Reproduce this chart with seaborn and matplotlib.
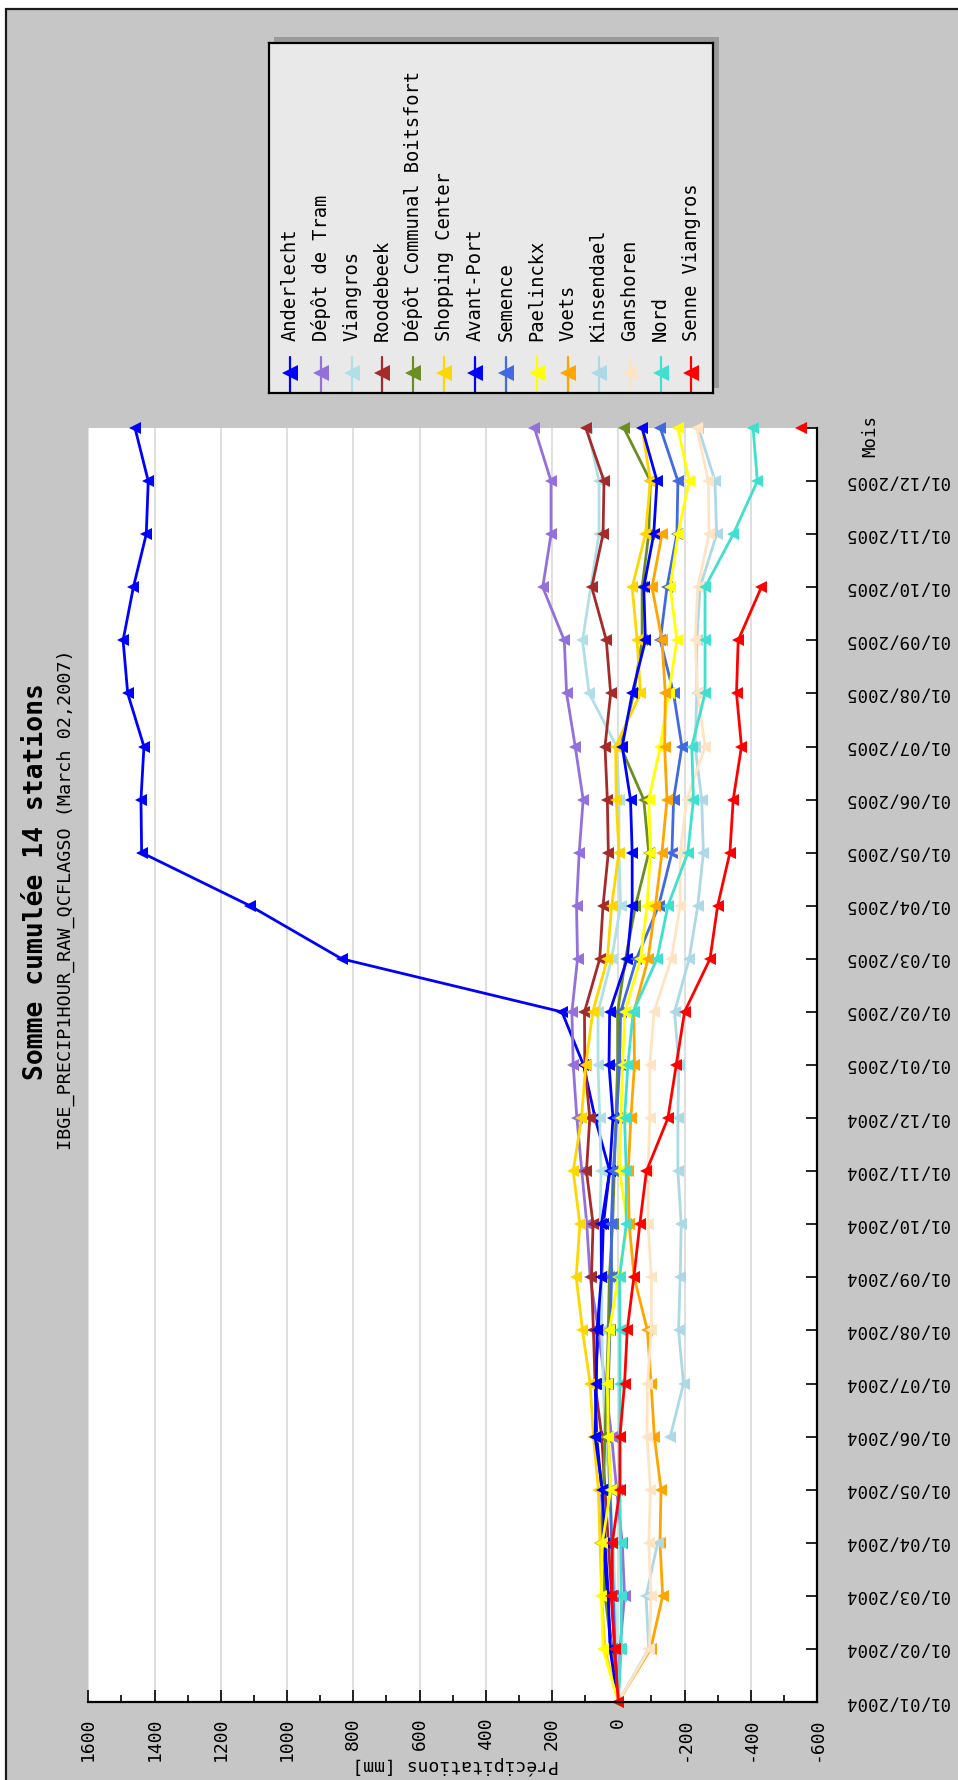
import numpy as np
import pandas as pd
import matplotlib
matplotlib.use("Agg")
import matplotlib.pyplot as plt
import seaborn as sns
from matplotlib.patches import Rectangle
from matplotlib.ticker import MultipleLocator

NaN = np.nan

# ---------------- data ----------------
stations = ["Anderlecht", "Dépôt de Tram", "Viangros", "Roodebeek",
            "Dépôt Communal Boitsfort", "Shopping Center", "Avant-Port",
            "Semence", "Paelinckx", "Voets", "Kinsendael", "Ganshoren",
            "Nord", "Senne Viangros"]
colors = ["#0000FF", "#9370DB", "#B0E0E6", "#A52A2A", "#6B8E23", "#FFD700",
          "#0000FF", "#4169E1", "#FFFF00", "#FFA500", "#ADD8E6", "#FFE4C4",
          "#40E0D0", "#FF0000"]

month_labels = ["01/01/2004", "01/02/2004", "01/03/2004", "01/04/2004",
                "01/05/2004", "01/06/2004", "01/07/2004", "01/08/2004",
                "01/09/2004", "01/10/2004", "01/11/2004", "01/12/2004",
                "01/01/2005", "01/02/2005", "01/03/2005", "01/04/2005",
                "01/05/2005", "01/06/2005", "01/07/2005", "01/08/2005",
                "01/09/2005", "01/10/2005", "01/11/2005", "01/12/2005"]

anderlecht = [0, 20, 35, 45, 50, 65, 70, 60, 50, 45, 26, 70, 105, 170, 835, 1112,
              1439, 1441, 1432, 1481, 1495, 1464, 1425, 1419, 1459]
depot_tram = [0, -5, -19, -12, 5, 20, 40, 60, 85, 95, 110, 125, 136, 140, 123, 126,
              118, 106, 130, 156, 163, 228, 203, 203, 253]
viangros = [0, 5, 10, 15, 25, 40, 45, 50, 50, 55, 52, 56, 61, 61, 20, -7,
            -2, -2, 5, 88, 108, 83, 58, 58, 93]
roodebeek = [0, 10, 20, 30, 40, 50, 70, 75, 81, 76, 96, 86, 101, 102, 56, 46,
             30, 33, 40, 23, 36, 80, 46, 43, 98]
boitsfort = [0, 20, 40, 55, 45, 40, 35, 30, 27, 17, 12, 7, 2, 2, -22, -52,
             -92, -77, -7, -47, -72, -72, -92, -97, -17]
shopping = [0, 40, 50, 55, 60, 75, 85, 108, 127, 116, 136, 111, 98, 77, 33, 20,
            -2, 6, 8, -67, -57, -42, -82, -97, -72]
avant_port = [0, 25, 30, 40, 48, 70, 66, 64, 51, 51, 26, 16, 28, 26, -27, -42,
              -42, -37, -12, -42, -82, -77, -107, -117, -72]
semence = [0, 10, 15, 20, 25, 30, 30, 25, 20, 21, 15, 5, -4, -7, -55, -122,
           -162, -167, -192, -167, -127, -147, -177, -180, -127]
paelinckx = [0, 46, 51, 48, 23, 30, 33, 27, 0, -28, -4, -8, -13, -20, -67, -87,
             -97, -92, -127, -152, -177, -157, -180, -214, -180]
voets = [0, -98, -134, -126, -129, -109, -99, -88, -48, -33, -30, -38, -49, -47, -90, -112,
         -132, -147, -140, -142, -132, -102, -132, NaN, NaN]
kinsendael = [0, -92, -84, -119, NaN, -157, -197, -182, -187, -190, -180, -180, -183, -170, -214, -240,
              -257, -252, -232, -237, -237, -247, -297, -292, -242]
ganshoren = [0, -94, -99, -92, -97, -87, -88, -100, -100, -90, -90, -95, -95, -108, -160, -187,
             -187, -207, -262, -240, -232, -240, -274, -272, -237]
nord = [0, -9, -9, -7, -5, -5, -5, -5, -4, -24, -24, -19, -29, -45, -117, -150,
        -210, -227, -222, -262, -262, -262, -347, -420, -407]
senne_viangros = [0, 11, 21, 18, -5, -5, -19, -27, -47, -65, -85, -150, -175, -200, -277, -300,
                  -337, -347, -372, -357, -362, -432, NaN, NaN, -552]

series_values = [anderlecht, depot_tram, viangros, roodebeek, boitsfort, shopping,
                 avant_port, semence, paelinckx, voets, kinsendael, ganshoren,
                 nord, senne_viangros]

xtick_values = [1600, 1400, 1200, 1000, 800, 600, 400, 200, 0, -200, -400, -600]

title = "Somme cumulée 14 stations"
subtitle = "IBGE_PRECIP1HOUR_RAW_QCFLAGSO (March 02,2007)"
xlabel = "Précipitations [mm]"
ylabel = "Mois"

# ---------------- long-form table (segments split at gaps) ----------------
rows = []
for name, vals in zip(stations, series_values):
    seg = 0
    prev_missing = False
    for m, v in enumerate(vals):
        if v is None or (isinstance(v, float) and np.isnan(v)):
            if not prev_missing:
                seg += 1
            prev_missing = True
            continue
        prev_missing = False
        rows.append({"station": name, "month": m, "value": v,
                     "segment": f"{name}#{seg}"})
df = pd.DataFrame(rows)

# ---------------- style ----------------
sns.set_theme(style="white")
plt.rcParams["font.family"] = ["DejaVu Sans Mono", "DejaVu Sans"]
plt.rcParams["text.color"] = "black"
plt.rcParams["xtick.color"] = "black"
plt.rcParams["ytick.color"] = "black"

W, H = 958, 1780
fig = plt.figure(figsize=(W / 100, H / 100), dpi=100)
fig.patch.set_facecolor("white")


def fx(px):
    return px / W


def fy(py):
    return 1 - py / H


# grey panel with dark border
fig.patches.append(Rectangle((fx(6), -0.01), 1.1, fy(9) + 0.01,
                             transform=fig.transFigure, facecolor="#c6c6c6",
                             edgecolor="#1a1a1a", linewidth=1.6, zorder=-10))

# ---------------- main axes ----------------
L, R, T, B = 88.3, 817, 428, 1702
ax = fig.add_axes([fx(L), fy(B), fx(R) - fx(L), fy(T) - fy(B)])
ax.set_facecolor("white")

sns.lineplot(data=df, x="value", y="month", hue="station", hue_order=stations,
             palette=dict(zip(stations, colors)), units="segment",
             estimator=None, orient="y", marker="<", markersize=8.5,
             markeredgewidth=0, linewidth=2.0, legend=False, clip_on=False,
             ax=ax)

ax.set_xlim(1600, -600)
ax.set_ylim(0, 24)
ax.set_xticks(xtick_values)
ax.set_xticklabels([str(v) for v in xtick_values], rotation=90)
ax.xaxis.set_minor_locator(MultipleLocator(100))
ax.yaxis.tick_right()
ax.set_yticks(range(len(month_labels) + 1))
ax.set_yticklabels(month_labels + [""], rotation=180)
for lbl in ax.get_yticklabels():
    lbl.set_va("center")

ax.tick_params(axis="x", which="major", direction="in", length=9, width=1.2,
               pad=11, labelsize=13, bottom=True, top=False)
ax.tick_params(axis="x", which="minor", direction="in", length=5, width=1.2,
               bottom=True, top=False)
ax.tick_params(axis="y", which="major", direction="in", length=8, width=1.2,
               pad=19, labelsize=12.5, left=False, right=True,
               labelleft=False, labelright=True)
ax.grid(axis="x", which="major", color="#dcdcdc", linewidth=1.3)
ax.grid(axis="y", visible=False)
ax.set_axisbelow(True)
for s in ["left", "top"]:
    ax.spines[s].set_visible(False)
for s in ["bottom", "right"]:
    ax.spines[s].set_visible(True)
    ax.spines[s].set_color("black")
    ax.spines[s].set_linewidth(1.6)
ax.set_xlabel("")
ax.set_ylabel("")

# ---------------- titles and axis labels ----------------
fig.text(fx(36), fy(882), title, rotation=90, ha="center", va="center",
         fontsize=19, fontweight="bold")
fig.text(fx(66), fy(900), subtitle, rotation=90, ha="center", va="center",
         fontsize=13.3)
fig.text(fx(870), fy(436), ylabel, rotation=90, ha="center", va="center",
         fontsize=12.5)
fig.text(fx(456), fy(1765), xlabel, rotation=180, ha="center", va="center",
         fontsize=13)

# ---------------- legend ----------------
dx = 3
fig.patches.append(Rectangle((fx(271 + dx), fy(388)), fx(716) - fx(271),
                             fy(37) - fy(388), transform=fig.transFigure,
                             facecolor="#9a9a9a", edgecolor="none", zorder=-5))
lx0, lx1, ly0, ly1 = 266 + dx, 710 + dx, 43.3, 393
lax = fig.add_axes([fx(lx0), fy(ly1), fx(lx1) - fx(lx0), fy(ly0) - fy(ly1)])
lax.set_facecolor("#e9e9e9")
lax.set_xlim(lx0, lx1)
lax.set_ylim(ly1, ly0)
lax.set_xticks([])
lax.set_yticks([])
for sp in lax.spines.values():
    sp.set_visible(True)
    sp.set_color("black")
    sp.set_linewidth(1.6)
for i, (name, col) in enumerate(zip(stations, colors)):
    x = 286.7 + dx + 30.9 * i
    lax.plot([x, x], [357, 392], color=col, lw=1.6)
    lax.plot([x], [373], marker="<", ms=12, color=col, mew=0)
    lax.text(x, 341, name, rotation=90, ha="center", va="bottom",
             fontsize=13.5, color="black")

fig.savefig("out.png", dpi=100, facecolor=fig.get_facecolor())
